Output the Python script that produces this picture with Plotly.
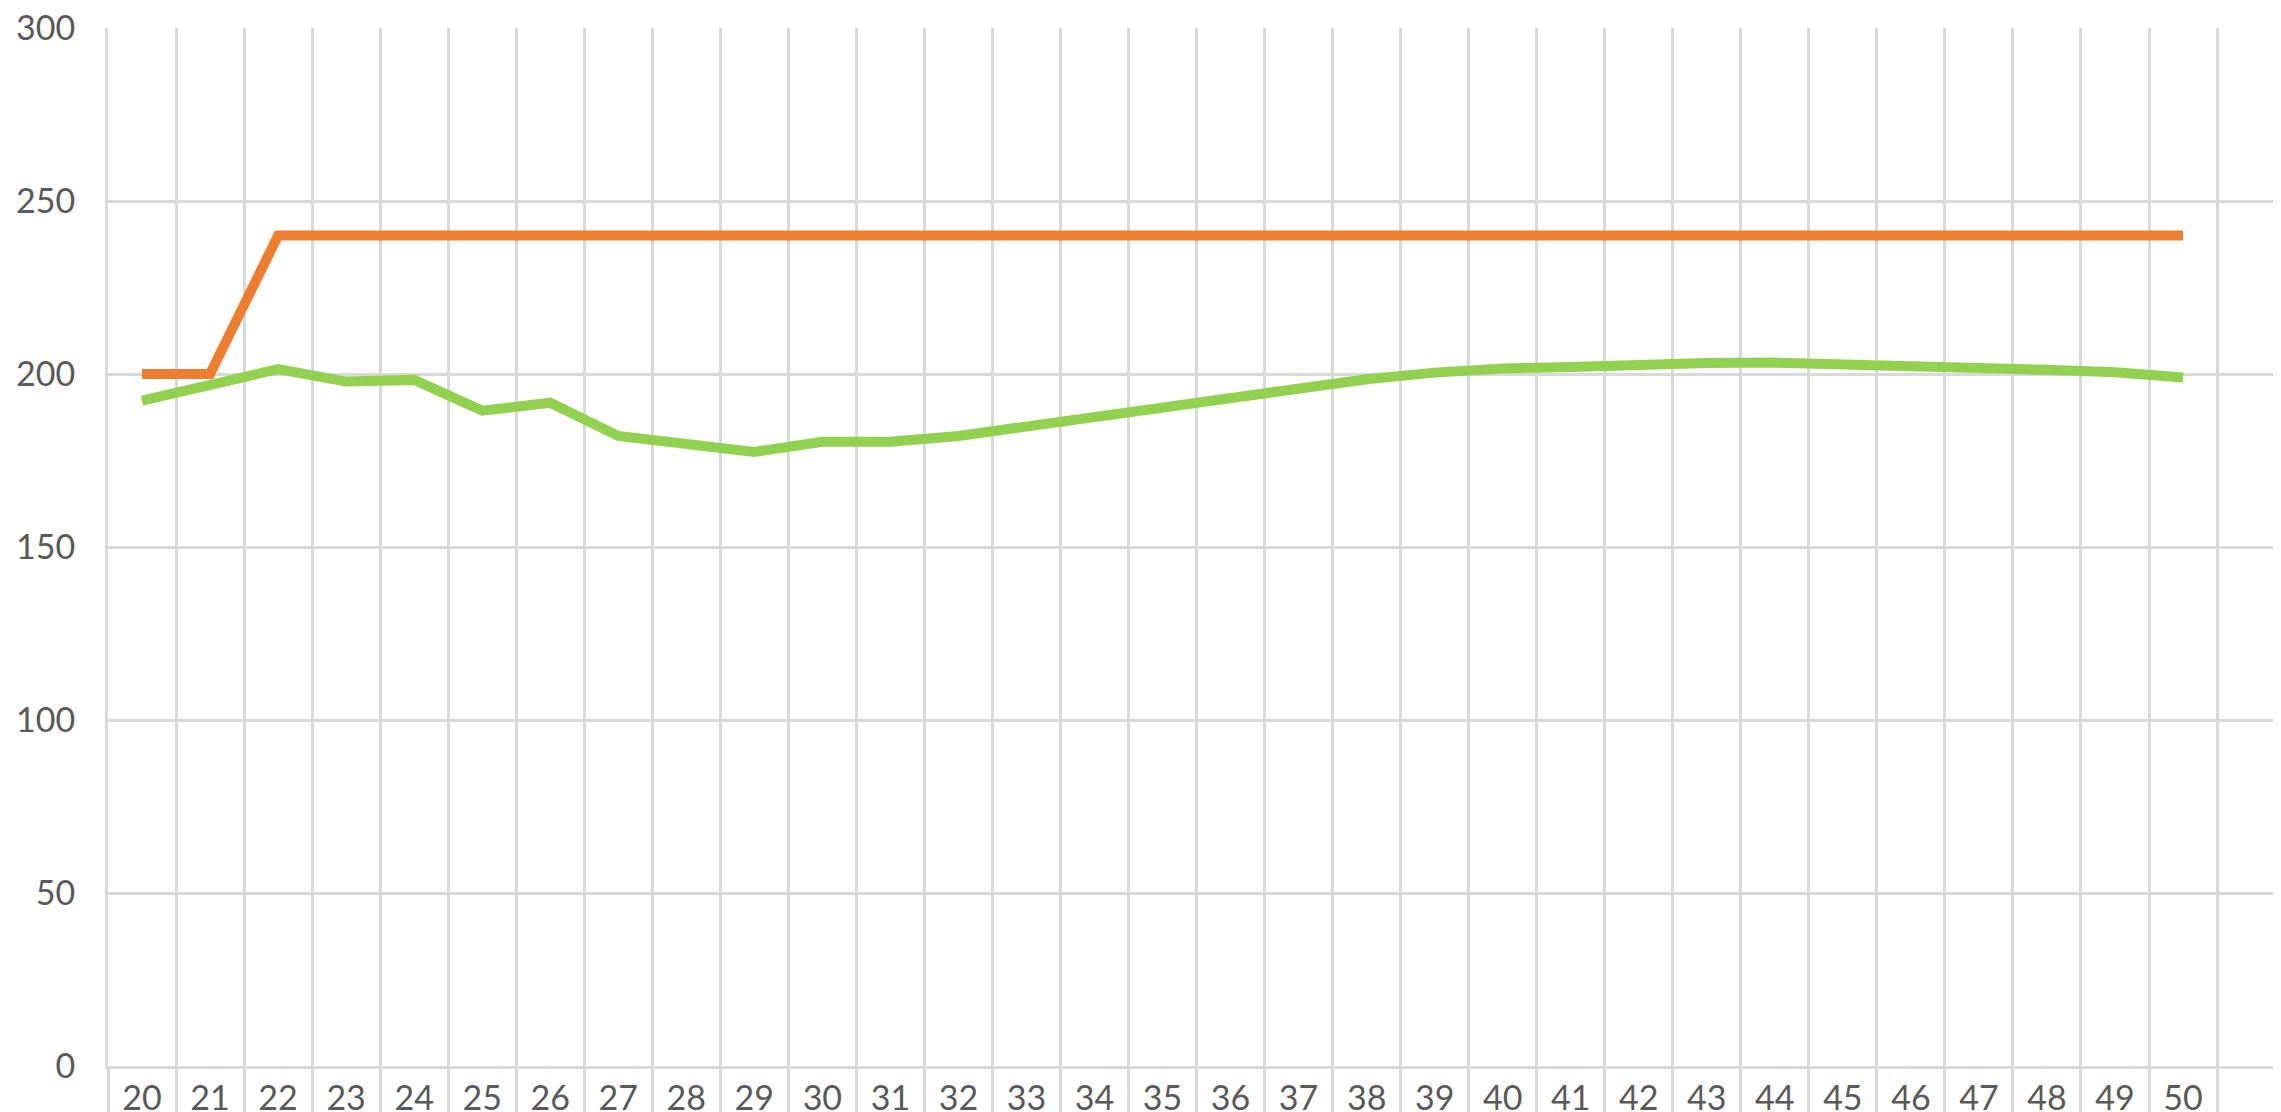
import plotly.graph_objects as go

categories = [str(v) for v in range(20, 51)]
orange_values = [200, 200] + [240] * 29
green_values = [192.3, 196.8, 201.4, 197.8, 198.3, 189.4, 191.7, 182.1, 180.0, 177.5,
                180.4, 180.4, 182.1, 184.8, 187.9, 190.8, 193.6, 196.2, 198.5, 200.4,
                201.6, 202.0, 202.7, 203.2, 203.3, 202.9, 202.8, 201.7, 201.2, 200.5,
                199.0]
y_ticks = [0, 50, 100, 150, 200, 250, 300]

GRID = "#D9D9D9"
TEXT = "#595959"
FONT = "Lato"

x_range = [-0.5, 31.44]

fig = go.Figure()
fig.add_trace(go.Scatter(x=categories, y=orange_values, mode="lines",
                         line=dict(color="#ED7D31", width=10), showlegend=False,
                         hoverinfo="skip"))
fig.add_trace(go.Scatter(x=categories, y=green_values, mode="lines",
                         line=dict(color="#92D050", width=10), showlegend=False,
                         hoverinfo="skip"))
# invisible trace on helper axis that draws the boundary tick marks below the axis
fig.add_trace(go.Scatter(x=[0], y=[0], xaxis="x2", mode="markers",
                         marker=dict(opacity=0), showlegend=False, hoverinfo="skip"))

# the page body has an 8px margin, so the figure is sized to fit the window
fig.update_layout(
    width=2273, height=1104,
    margin=dict(l=100, r=0, t=20, b=46, autoexpand=False),
    paper_bgcolor="white", plot_bgcolor="white",
    font=dict(family=FONT, size=34, color=TEXT),
    xaxis=dict(
        type="category", categoryorder="array", categoryarray=categories,
        range=x_range, tickson="boundaries", ticks="",
        showgrid=True, gridcolor=GRID, gridwidth=3,
        showline=True, linecolor=GRID, linewidth=3,
        tickfont=dict(family=FONT, size=34, color=TEXT),
        ticklabelstandoff=0, ticklabeloverflow="allow", automargin=False,
        fixedrange=True,
    ),
    xaxis2=dict(
        overlaying="x", anchor="y", side="bottom", type="linear",
        range=x_range, tickmode="linear", tick0=-0.5, dtick=1,
        ticks="outside", ticklen=60, tickwidth=3, tickcolor=GRID,
        showticklabels=False, showgrid=False, zeroline=False, showline=False,
        automargin=False, fixedrange=True,
    ),
    yaxis=dict(
        range=[0, 300], tickmode="array", tickvals=y_ticks,
        showgrid=True, gridcolor=GRID, gridwidth=3,
        zeroline=False, showline=True, linecolor=GRID, linewidth=3,
        ticks="", ticklabelstandoff=23, ticklabeloverflow="allow", automargin=False,
        tickfont=dict(family=FONT, size=34, color=TEXT),
        fixedrange=True,
    ),
)

fig.write_html("out.html")
